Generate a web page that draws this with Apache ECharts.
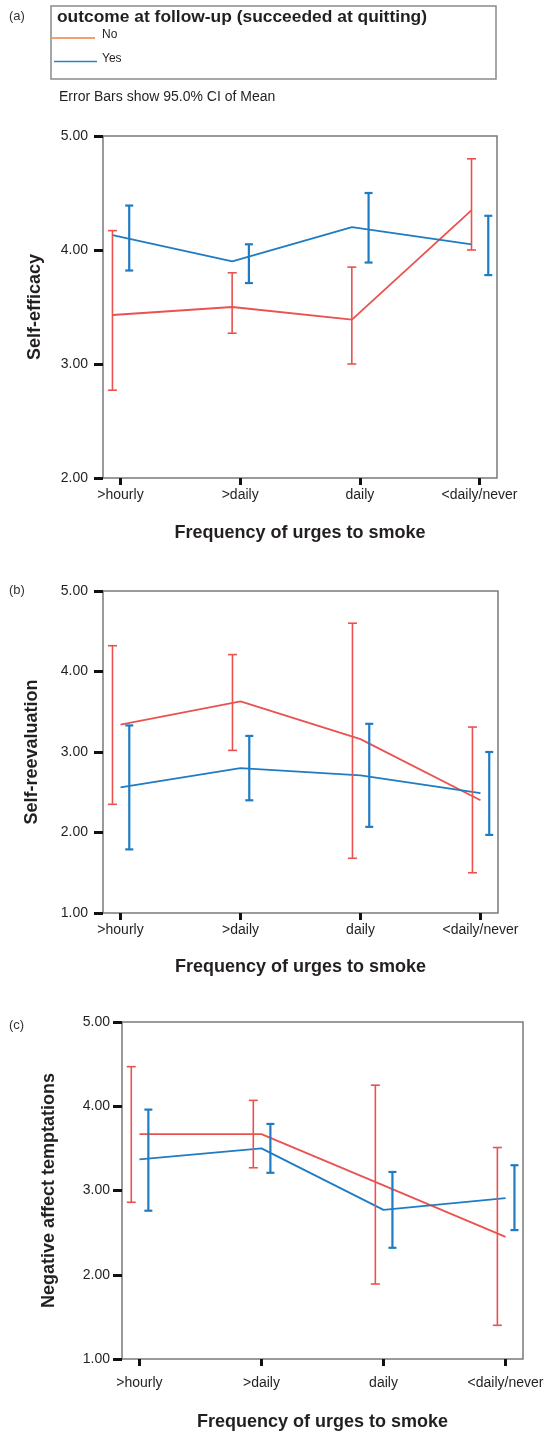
<!DOCTYPE html>
<html>
<head>
<meta charset="utf-8">
<script src="https://cdn.jsdelivr.net/npm/echarts@6/dist/echarts.min.js"></script>
<style>
html,body{margin:0;padding:0;background:#fff;}
#c{width:548px;height:1434px;}
</style>
</head>
<body>
<div id="c"></div>
<script>
// ---------------- data ----------------
const categories = ['>hourly', '>daily', 'daily', '<daily/never'];
const seriesNames = ['No', 'Yes'];
const xTitle = 'Frequency of urges to smoke';
const yTitles = ['Self-efficacy', 'Self-reevaluation', 'Negative affect temptations'];
const yTicksA = [2, 3, 4, 5];
const yTicksBC = [1, 2, 3, 4, 5];

// (a) Self-efficacy
const aNoMean  = [3.43, 3.50, 3.39, 4.35];
const aNoLow   = [2.77, 3.27, 3.00, 4.00];
const aNoHigh  = [4.17, 3.80, 3.85, 4.80];
const aYesMean = [4.13, 3.90, 4.20, 4.05];
const aYesLow  = [3.82, 3.71, 3.89, 3.78];
const aYesHigh = [4.39, 4.05, 4.50, 4.30];

// (b) Self-reevaluation
const bNoMean  = [3.34, 3.63, 3.16, 2.40];
const bNoLow   = [2.35, 3.02, 1.68, 1.50];
const bNoHigh  = [4.32, 4.21, 4.60, 3.31];
const bYesMean = [2.56, 2.80, 2.71, 2.49];
const bYesLow  = [1.79, 2.40, 2.07, 1.97];
const bYesHigh = [3.33, 3.20, 3.35, 3.00];

// (c) Negative affect temptations
const cNoMean  = [3.67, 3.67, 3.06, 2.45];
const cNoLow   = [2.86, 3.27, 1.89, 1.40];
const cNoHigh  = [4.47, 4.07, 4.25, 3.51];
const cYesMean = [3.37, 3.50, 2.77, 2.91];
const cYesLow  = [2.76, 3.21, 2.32, 2.53];
const cYesHigh = [3.96, 3.79, 3.22, 3.30];

// ---------------- style ----------------
const RED = '#e9524f';
const BLUE = '#1f7cc2';
const FONT = '"Liberation Sans", Arial, Helvetica, sans-serif';
const TXT = '#231f20';
const DODGE_NO = -0.067, DODGE_YES = 0.073;

const chart = echarts.init(document.getElementById('c'), null, {renderer: 'canvas'});

const grids = [
  {left: 103, top: 136, width: 394, height: 342},
  {left: 103, top: 591, width: 395, height: 322},
  {left: 122, top: 1022, width: 401, height: 337}
];
const panels = [
  {noM: aNoMean, noL: aNoLow, noH: aNoHigh, yM: aYesMean, yL: aYesLow, yH: aYesHigh, ymin: 2, lineOff: -0.066, pad: 0.146, xMargin: 10, yMargin: 15, xGap: 46, yGap: 59, ticks: yTicksA},
  {noM: bNoMean, noL: bNoLow, noH: bNoHigh, yM: bYesMean, yL: bYesLow, yH: bYesHigh, ymin: 1, lineOff: 0, pad: 0.146, xMargin: 10, yMargin: 15, xGap: 45, yGap: 62, ticks: yTicksBC},
  {noM: cNoMean, noL: cNoLow, noH: cNoHigh, yM: cYesMean, yL: cYesLow, yH: cYesHigh, ymin: 1, lineOff: 0, pad: 0.143, xMargin: 17, yMargin: 12, xGap: 54, yGap: 64, ticks: yTicksBC}
];

function errRender(color, lw, capHalf) {
  return function (params, api) {
    const x = api.value(0), lo = api.value(1), hi = api.value(2);
    const pLo = api.coord([x, lo]);
    const pHi = api.coord([x, hi]);
    const st = {stroke: color, lineWidth: lw};
    return {
      type: 'group',
      children: [
        {type: 'line', shape: {x1: pHi[0], y1: pHi[1], x2: pLo[0], y2: pLo[1]}, style: st},
        {type: 'line', shape: {x1: pHi[0] - capHalf, y1: pHi[1], x2: pHi[0] + capHalf, y2: pHi[1]}, style: st},
        {type: 'line', shape: {x1: pLo[0] - capHalf, y1: pLo[1], x2: pLo[0] + capHalf, y2: pLo[1]}, style: st}
      ]
    };
  };
}

const xAxes = [], yAxes = [], series = [];
panels.forEach((p, i) => {
  const idx = categories.map((_, k) => k + 1);
  xAxes.push({
    gridIndex: i, type: 'value', min: 1 - p.pad, max: categories.length + p.pad,
    axisLine: {show: false}, splitLine: {show: false},
    axisTick: {show: true, customValues: idx, length: 7, lineStyle: {color: '#111', width: 3}},
    axisLabel: {customValues: idx, formatter: v => categories[Math.round(v) - 1], margin: p.xMargin,
      fontSize: 14, color: TXT, fontFamily: FONT},
    name: xTitle, nameLocation: 'middle', nameGap: p.xGap,
    nameTextStyle: {fontSize: 18, fontWeight: 'bold', color: TXT, fontFamily: FONT}
  });
  yAxes.push({
    gridIndex: i, type: 'value', min: p.ymin, max: 5, interval: 1,
    axisLine: {show: false}, splitLine: {show: false},
    axisTick: {show: true, length: 9, lineStyle: {color: '#111', width: 3}},
    axisLabel: {formatter: v => v.toFixed(2), margin: p.yMargin, fontSize: 14, color: TXT, fontFamily: FONT},
    name: yTitles[i], nameLocation: 'middle', nameGap: p.yGap,
    nameTextStyle: {fontSize: 18, fontWeight: 'bold', color: TXT, fontFamily: FONT}
  });
  const lineData = arr => arr.map((v, k) => [k + 1 + p.lineOff, v]);
  const errData = (lo, hi, d) => lo.map((v, k) => [k + 1 + d, v, hi[k]]);
  series.push({
    name: seriesNames[0], type: 'line', xAxisIndex: i, yAxisIndex: i, data: lineData(p.noM),
    symbol: 'none', lineStyle: {color: RED, width: 1.8}, z: 3, silent: true
  });
  series.push({
    name: seriesNames[1], type: 'line', xAxisIndex: i, yAxisIndex: i, data: lineData(p.yM),
    symbol: 'none', lineStyle: {color: BLUE, width: 1.8}, z: 3, silent: true
  });
  series.push({
    type: 'custom', xAxisIndex: i, yAxisIndex: i, data: errData(p.noL, p.noH, DODGE_NO),
    encode: {x: 0, y: [1, 2]}, renderItem: errRender(RED, 1.6, 4.5), z: 4, silent: true
  });
  series.push({
    type: 'custom', xAxisIndex: i, yAxisIndex: i, data: errData(p.yL, p.yH, DODGE_YES),
    encode: {x: 0, y: [1, 2]}, renderItem: errRender(BLUE, 2.2, 4), z: 4, silent: true
  });
});

const txt = (x, y, text, font, fill) => ({type: 'text', x, y,
  style: {text, font, fill: fill || TXT, align: 'left', verticalAlign: 'middle'}});

const graphic = [
  txt(9, 16, '(a)', '13px ' + FONT, '#333'),
  txt(9, 590, '(b)', '13px ' + FONT, '#333'),
  txt(9, 1025, '(c)', '13px ' + FONT, '#333'),
  {type: 'rect', shape: {x: 51, y: 6, width: 445, height: 73}, style: {fill: 'none', stroke: '#8a8a8a', lineWidth: 1.5}},
  txt(57, 17, 'outcome at follow-up (succeeded at quitting)', 'bold 17.4px ' + FONT),
  {type: 'line', shape: {x1: 52, y1: 38, x2: 95, y2: 38}, style: {stroke: '#ef7f3f', lineWidth: 1.6}},
  txt(102, 35, seriesNames[0], '12px ' + FONT),
  {type: 'line', shape: {x1: 54, y1: 61.5, x2: 97, y2: 61.5}, style: {stroke: '#2a83c6', lineWidth: 1.6}},
  txt(102, 59, seriesNames[1], '12px ' + FONT),
  txt(59, 97, 'Error Bars show 95.0% CI of Mean', '14px ' + FONT)
];

chart.setOption({
  animation: false,
  backgroundColor: '#fff',
  grid: grids.map(g => Object.assign({show: true, borderColor: '#7a7a7a', borderWidth: 1.5, backgroundColor: 'transparent', containLabel: false}, g)),
  xAxis: xAxes,
  yAxis: yAxes,
  series: series,
  graphic: graphic
});
</script>
</body>
</html>
